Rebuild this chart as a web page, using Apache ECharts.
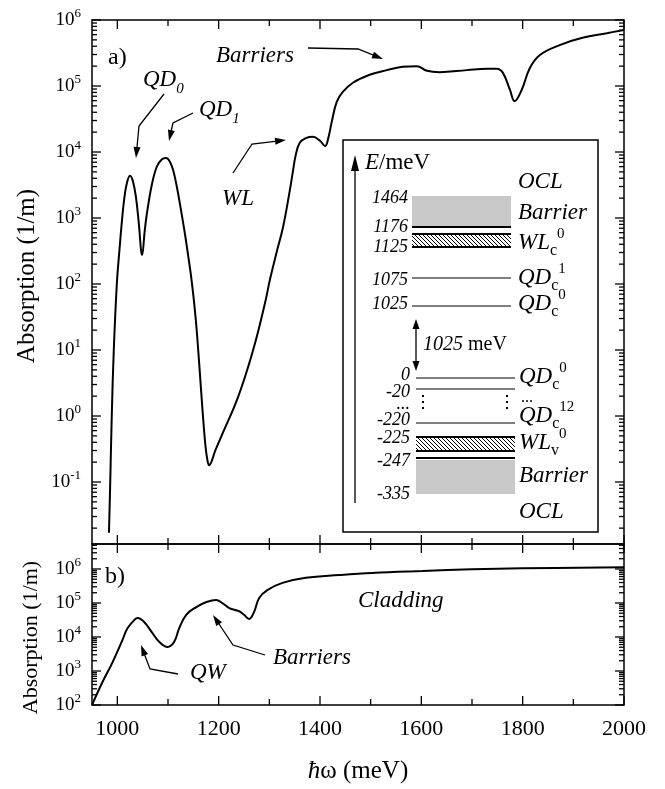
<html>
<head>
<meta charset="UTF-8">
<title>Absorption spectra</title>
<script src="https://cdn.jsdelivr.net/npm/echarts@6/dist/echarts.min.js"></script>
<style>html,body{margin:0;padding:0;background:#fff;}#container{width:665px;height:789px;}</style>
</head>
<body>
<div id="container"></div>
<script>
// panel a) photon energy (meV) and absorption (1/m)
var energyA = [983.5, 986, 989, 993, 999, 1004, 1009, 1013, 1018, 1025, 1031, 1037, 1042, 1049, 1054, 1058, 1068, 1078, 1088, 1096,
  1104, 1111, 1118, 1125, 1133, 1140, 1147, 1155, 1162, 1168, 1174, 1178, 1181, 1194, 1208, 1236, 1258, 1277, 1293, 1301, 1315,
  1327, 1340, 1346, 1352, 1360, 1372, 1386, 1400, 1410, 1416, 1423, 1433, 1445, 1465, 1498, 1532, 1563, 1591, 1611, 1636,
  1690, 1730, 1749, 1761, 1775, 1784, 1798, 1814, 1834, 1873, 1918, 1966, 2000];
var absorpA = [0.017, 0.1, 1, 10, 100, 316, 890, 1780, 3160, 4370, 3550, 2000, 890, 275, 631, 1120, 3160, 6030, 7760, 8130,
  7080, 5010, 2820, 1410, 603, 263, 107, 28, 5.6, 1.26, 0.35, 0.21, 0.18, 0.31, 0.55, 1.74, 5.5, 18, 58, 115, 316,
  724, 2510, 4790, 8910, 13800, 16200, 17000, 14800, 12300, 15800, 28200, 57500, 81300, 112000, 148000, 174000, 195000, 200000, 170000, 162000,
  174000, 182000, 182000, 158000, 87000, 59000, 87000, 186000, 295000, 417000, 537000, 631000, 708000];

// panel b)
var energyB = [950, 970, 990, 1010, 1020, 1034, 1040, 1053, 1069, 1083, 1099, 1112, 1122, 1136, 1156, 1176, 1195, 1207, 1221, 1240,
  1250, 1260, 1270, 1280, 1296, 1326, 1372, 1438, 1503, 1602, 1700, 1799, 2000];
var absorpB = [100, 450, 1740, 8100, 18000, 32000, 36000, 27500, 13200, 7100, 5100, 7100, 18000, 45000, 76000, 107000, 123000, 100000, 71000, 57500,
  45000, 34000, 55000, 141000, 240000, 390000, 550000, 660000, 760000, 870000, 980000, 1050000, 1120000];

var xTickValues = [1000, 1200, 1400, 1600, 1800, 2000];
var xMinorValues = [1100, 1300, 1500, 1700, 1900];
var yTicksA = [0.1, 1, 10, 100, 1000, 10000, 100000, 1000000];
var yTicksB = [100, 1000, 10000, 100000, 1000000];

// inset: energy level diagram
var upperValues = ['1464', '1176', '1125', '1075', '1025'];
var lowerValues = ['0', '-20', '...', '-220', '-225', '-247', '-335'];

var SERIF = '"Liberation Serif", "DejaVu Serif", serif';
var X_MIN = 950, X_MAX = 2000;
var YA_MIN = 0.0115, YA_MAX = 1e6;
var YB_MIN = 100, YB_MAX = 5.43e6;

function logMinor(lo, hi) {
  var out = [];
  for (var k = -3; k <= 7; k++) {
    for (var d = 2; d <= 9; d++) {
      var v = d * Math.pow(10, k);
      if (v > lo && v < hi) out.push(v);
    }
  }
  return out;
}

// ticks on all four sides of a panel, placed with the axes' own scales
function frameTicks(gi, yMajor, yMinor) {
  return {
    type: 'custom', xAxisIndex: gi, yAxisIndex: gi, silent: true, clip: false, z: 5,
    data: [[xTickValues[0], yMajor[0]]],
    renderItem: function (params, api) {
      var cs = params.coordSys;
      var L = cs.x, R = cs.x + cs.width, T = cs.y, B = cs.y + cs.height;
      var kids = [];
      function seg(x1, y1, x2, y2) {
        kids.push({ type: 'line', shape: { x1: x1, y1: y1, x2: x2, y2: y2 }, style: { stroke: '#000', lineWidth: 1.3 } });
      }
      xTickValues.forEach(function (v) { var p = api.coord([v, yMajor[0]])[0]; seg(p, B, p, B - 9); seg(p, T, p, T + 9); });
      xMinorValues.forEach(function (v) { var p = api.coord([v, yMajor[0]])[0]; seg(p, B, p, B - 6); seg(p, T, p, T + 6); });
      yMajor.forEach(function (v) { var p = api.coord([xTickValues[0], v])[1]; seg(L, p, L + 9, p); seg(R, p, R - 9, p); });
      yMinor.forEach(function (v) { var p = api.coord([xTickValues[0], v])[1]; seg(L, p, L + 5, p); seg(R, p, R - 5, p); });
      return { type: 'group', children: kids };
    }
  };
}

var meas = document.createElement('canvas').getContext('2d');
function fontOf(size, italic) { return (italic ? 'italic ' : '') + size + 'px ' + SERIF; }
function widthOf(t, size, italic) { meas.font = fontOf(size, italic); return meas.measureText(t).width; }
// parts: [text, size, italic, dy]; y = vertical middle of the main text
function words(x, y, parts, anchor) {
  var total = 0;
  parts.forEach(function (p) { total += widthOf(p[0], p[1], p[2]); });
  var cx = anchor === 'right' ? x - total : (anchor === 'center' ? x - total / 2 : x);
  return parts.map(function (p) {
    var el = {
      type: 'text', x: cx, y: y + (p[3] || 0), z: 100,
      style: { text: p[0], font: fontOf(p[1], p[2]), fill: '#000', align: 'left', verticalAlign: 'middle', textAlign: 'left', textVerticalAlign: 'middle' }
    };
    cx += widthOf(p[0], p[1], p[2]);
    return el;
  });
}
function arrow(pts, head, half) {
  head = head || 11; half = half || 3.5;
  var a = pts[pts.length - 2], b = pts[pts.length - 1];
  var dx = b[0] - a[0], dy = b[1] - a[1], d = Math.sqrt(dx * dx + dy * dy);
  var ux = dx / d, uy = dy / d;
  var bx = b[0] - ux * head, by = b[1] - uy * head;
  var line = pts.slice(0, -1).concat([[bx + ux * 2, by + uy * 2]]);
  return [
    { type: 'polyline', z: 100, shape: { points: line }, style: { stroke: '#000', lineWidth: 1.3, fill: null } },
    { type: 'polygon', z: 100, shape: { points: [b, [bx + uy * half, by - ux * half], [bx - uy * half, by + ux * half]] }, style: { fill: '#000' } }
  ];
}
function hline(x1, x2, y, w, dash) {
  return { type: 'line', z: 100, shape: { x1: x1, y1: y, x2: x2, y2: y }, style: { stroke: '#000', lineWidth: w, lineDash: dash || null } };
}
function vline(x, y1, y2, w, dash) {
  return { type: 'line', z: 100, shape: { x1: x, y1: y1, x2: x, y2: y2 }, style: { stroke: '#000', lineWidth: w, lineDash: dash || null } };
}

var hatch = document.createElement('canvas');
hatch.width = hatch.height = 4;
(function () {
  var h = hatch.getContext('2d');
  h.strokeStyle = '#000'; h.lineWidth = 1;
  h.beginPath();
  h.moveTo(-1, -1); h.lineTo(5, 5);
  h.moveTo(-1, 3); h.lineTo(1, 5);
  h.moveTo(3, -1); h.lineTo(5, 1);
  h.stroke();
})();
function band(x, y, w, h, fill) {
  return { type: 'rect', z: 99, shape: { x: x, y: y, width: w, height: h }, style: { fill: fill } };
}

var els = [];
// panel annotations
els = els.concat(
  words(108, 58, [['a)', 24, false]]),
  words(216, 56, [['Barriers', 23, true]]),
  arrow([[308, 48], [358, 49], [383, 59]]),
  words(143, 80, [['QD', 23, true], ['0', 15, true, 9]]),
  arrow([[164, 94], [139, 126], [136, 158]]),
  words(199, 110, [['QD', 23, true], ['1', 15, true, 9]]),
  arrow([[193, 113], [173, 123], [169, 141]]),
  words(222, 199, [['WL', 23, true]]),
  arrow([[233, 173], [252, 144], [286, 140]]),
  words(105, 577, [['b)', 24, false]]),
  words(190, 673, [['QW', 23, true]]),
  arrow([[178, 674], [150, 669], [141, 645]]),
  words(273, 658, [['Barriers', 23, true]]),
  arrow([[265, 655], [233, 645], [213, 615]]),
  words(358, 601, [['Cladding', 23, true]])
);

// inset
els.push({ type: 'rect', z: 98, shape: { x: 343, y: 140, width: 255, height: 392 }, style: { fill: '#fff', stroke: '#000', lineWidth: 1.5 } });
els = els.concat(arrow([[355, 503], [355, 155]], 16, 4));
els = els.concat(words(365, 163, [['E', 23, true], ['/meV', 23, false]]));
var upperMid = [198, 227, 247, 280, 304];
upperValues.forEach(function (t, i) { els = els.concat(words(408, upperMid[i], [[t, 18, true]], 'right')); });
els.push(band(412, 196, 99, 30, '#c8c8c8'));
els.push(hline(412, 511, 227, 2));
els.push(band(412, 234, 99, 13, { image: hatch, repeat: 'repeat' }));
els.push(hline(412, 511, 234, 2), hline(412, 511, 247, 2));
els.push(hline(412, 511, 278, 1.2), hline(412, 511, 306, 1.2));
els = els.concat(
  words(518, 182, [['OCL', 23, true]]),
  words(518, 213, [['Barrier', 23, true]]),
  words(518, 243, [['WL', 23, true], ['c', 16, false, 8], ['0', 15, false, -9]]),
  words(518, 278, [['QD', 23, true], ['c', 16, false, 8], ['1', 15, false, -9]]),
  words(518, 304, [['QD', 23, true], ['c', 16, false, 8], ['0', 15, false, -9]])
);
els = els.concat(arrow([[416, 345], [416, 319]], 10, 3.5), arrow([[416, 345], [416, 371]], 10, 3.5));
els = els.concat(words(423, 345, [['1025', 20, true], [' meV', 20, false]]));
var lowerMid = [375, 392, 404, 420, 438, 461, 494];
lowerValues.forEach(function (t, i) { els = els.concat(words(410, lowerMid[i], [[t, 18, true]], 'right')); });
els.push(hline(416, 515, 378, 1.2), hline(416, 515, 389, 1.2), hline(416, 515, 423, 1.2));
els.push(vline(423, 395, 413, 2, [2, 4]), vline(507, 395, 413, 2, [2, 4]));
els.push(band(416, 437, 99, 14, { image: hatch, repeat: 'repeat' }));
els.push(hline(416, 515, 437, 2), hline(416, 515, 451, 2));
els.push(hline(416, 515, 458, 2));
els.push(band(416, 460, 99, 34, '#c8c8c8'));
els = els.concat(
  words(519, 377, [['QD', 23, true], ['c', 16, false, 8], ['0', 15, false, -9]]),
  words(521, 398, [['...', 16, false]]),
  words(519, 416, [['QD', 23, true], ['c', 16, false, 8], ['12', 15, false, -9]]),
  words(519, 443, [['WL', 23, true], ['v', 16, false, 8], ['0', 15, false, -9]]),
  words(519, 476, [['Barrier', 23, true]]),
  words(519, 512, [['OCL', 23, true]])
);

function powLabel(v) {
  return '{b|10}{s|' + Math.round(Math.log10(v)) + '}';
}
var yLabelRich = {
  b: { fontFamily: SERIF, fontSize: 19, lineHeight: 26, color: '#000' },
  s: { fontFamily: SERIF, fontSize: 13, lineHeight: 13, verticalAlign: 'top', color: '#000' }
};

function xAxisFor(gi, showLabels) {
  return {
    type: 'value', gridIndex: gi, min: X_MIN, max: X_MAX,
    axisLine: { show: false }, axisTick: { show: false }, splitLine: { show: false },
    axisLabel: {
      show: showLabels, customValues: xTickValues, margin: 13, fontFamily: SERIF, fontSize: 22, color: '#000',
      formatter: function (v) { return String(v); }
    },
    name: showLabels ? '{i|ħ}ω (meV)' : '', nameLocation: 'middle', nameGap: 54,
    nameTextStyle: { fontFamily: SERIF, fontSize: 25, color: '#000', rich: { i: { fontFamily: SERIF, fontSize: 25, fontStyle: 'italic', color: '#000' } } }
  };
}
function yAxisFor(gi, lo, hi, ticks, nameSize, gap, pad) {
  return {
    type: 'log', logBase: 10, gridIndex: gi, min: lo, max: hi,
    axisLine: { show: false }, axisTick: { show: false }, splitLine: { show: false },
    axisLabel: { customValues: ticks, formatter: powLabel, rich: yLabelRich, margin: 11 },
    name: 'Absorption (1/m)', nameLocation: 'middle', nameGap: gap,
    nameTextStyle: { fontFamily: SERIF, fontSize: nameSize, color: '#000', padding: pad }
  };
}

var chart = echarts.init(document.getElementById('container'));
chart.setOption({
  animation: false,
  backgroundColor: '#fff',
  grid: [
    { left: 92, top: 20, width: 532, height: 524, show: true, borderColor: '#000', borderWidth: 1.5, backgroundColor: 'transparent' },
    { left: 92, top: 544, width: 532, height: 161, show: true, borderColor: '#000', borderWidth: 1.5, backgroundColor: 'transparent' }
  ],
  xAxis: [xAxisFor(0, false), xAxisFor(1, true)],
  yAxis: [yAxisFor(0, YA_MIN, YA_MAX, yTicksA, 25, 34, [0, 0, 0, 12]), yAxisFor(1, YB_MIN, YB_MAX, yTicksB, 22, 50, [0, 26, 0, 0])],
  series: [
    {
      type: 'line', xAxisIndex: 0, yAxisIndex: 0, showSymbol: false, smooth: 0.4,
      lineStyle: { color: '#000', width: 2 },
      data: energyA.map(function (e, i) { return [e, absorpA[i]]; })
    },
    {
      type: 'line', xAxisIndex: 1, yAxisIndex: 1, showSymbol: false, smooth: 0.4,
      lineStyle: { color: '#000', width: 2 },
      data: energyB.map(function (e, i) { return [e, absorpB[i]]; })
    },
    frameTicks(0, yTicksA, logMinor(YA_MIN, YA_MAX)),
    frameTicks(1, yTicksB, logMinor(YB_MIN, YB_MAX))
  ],
  graphic: { elements: els }
});

window.onresize = function () {
  chart.resize();
};
</script>
</body>
</html>
